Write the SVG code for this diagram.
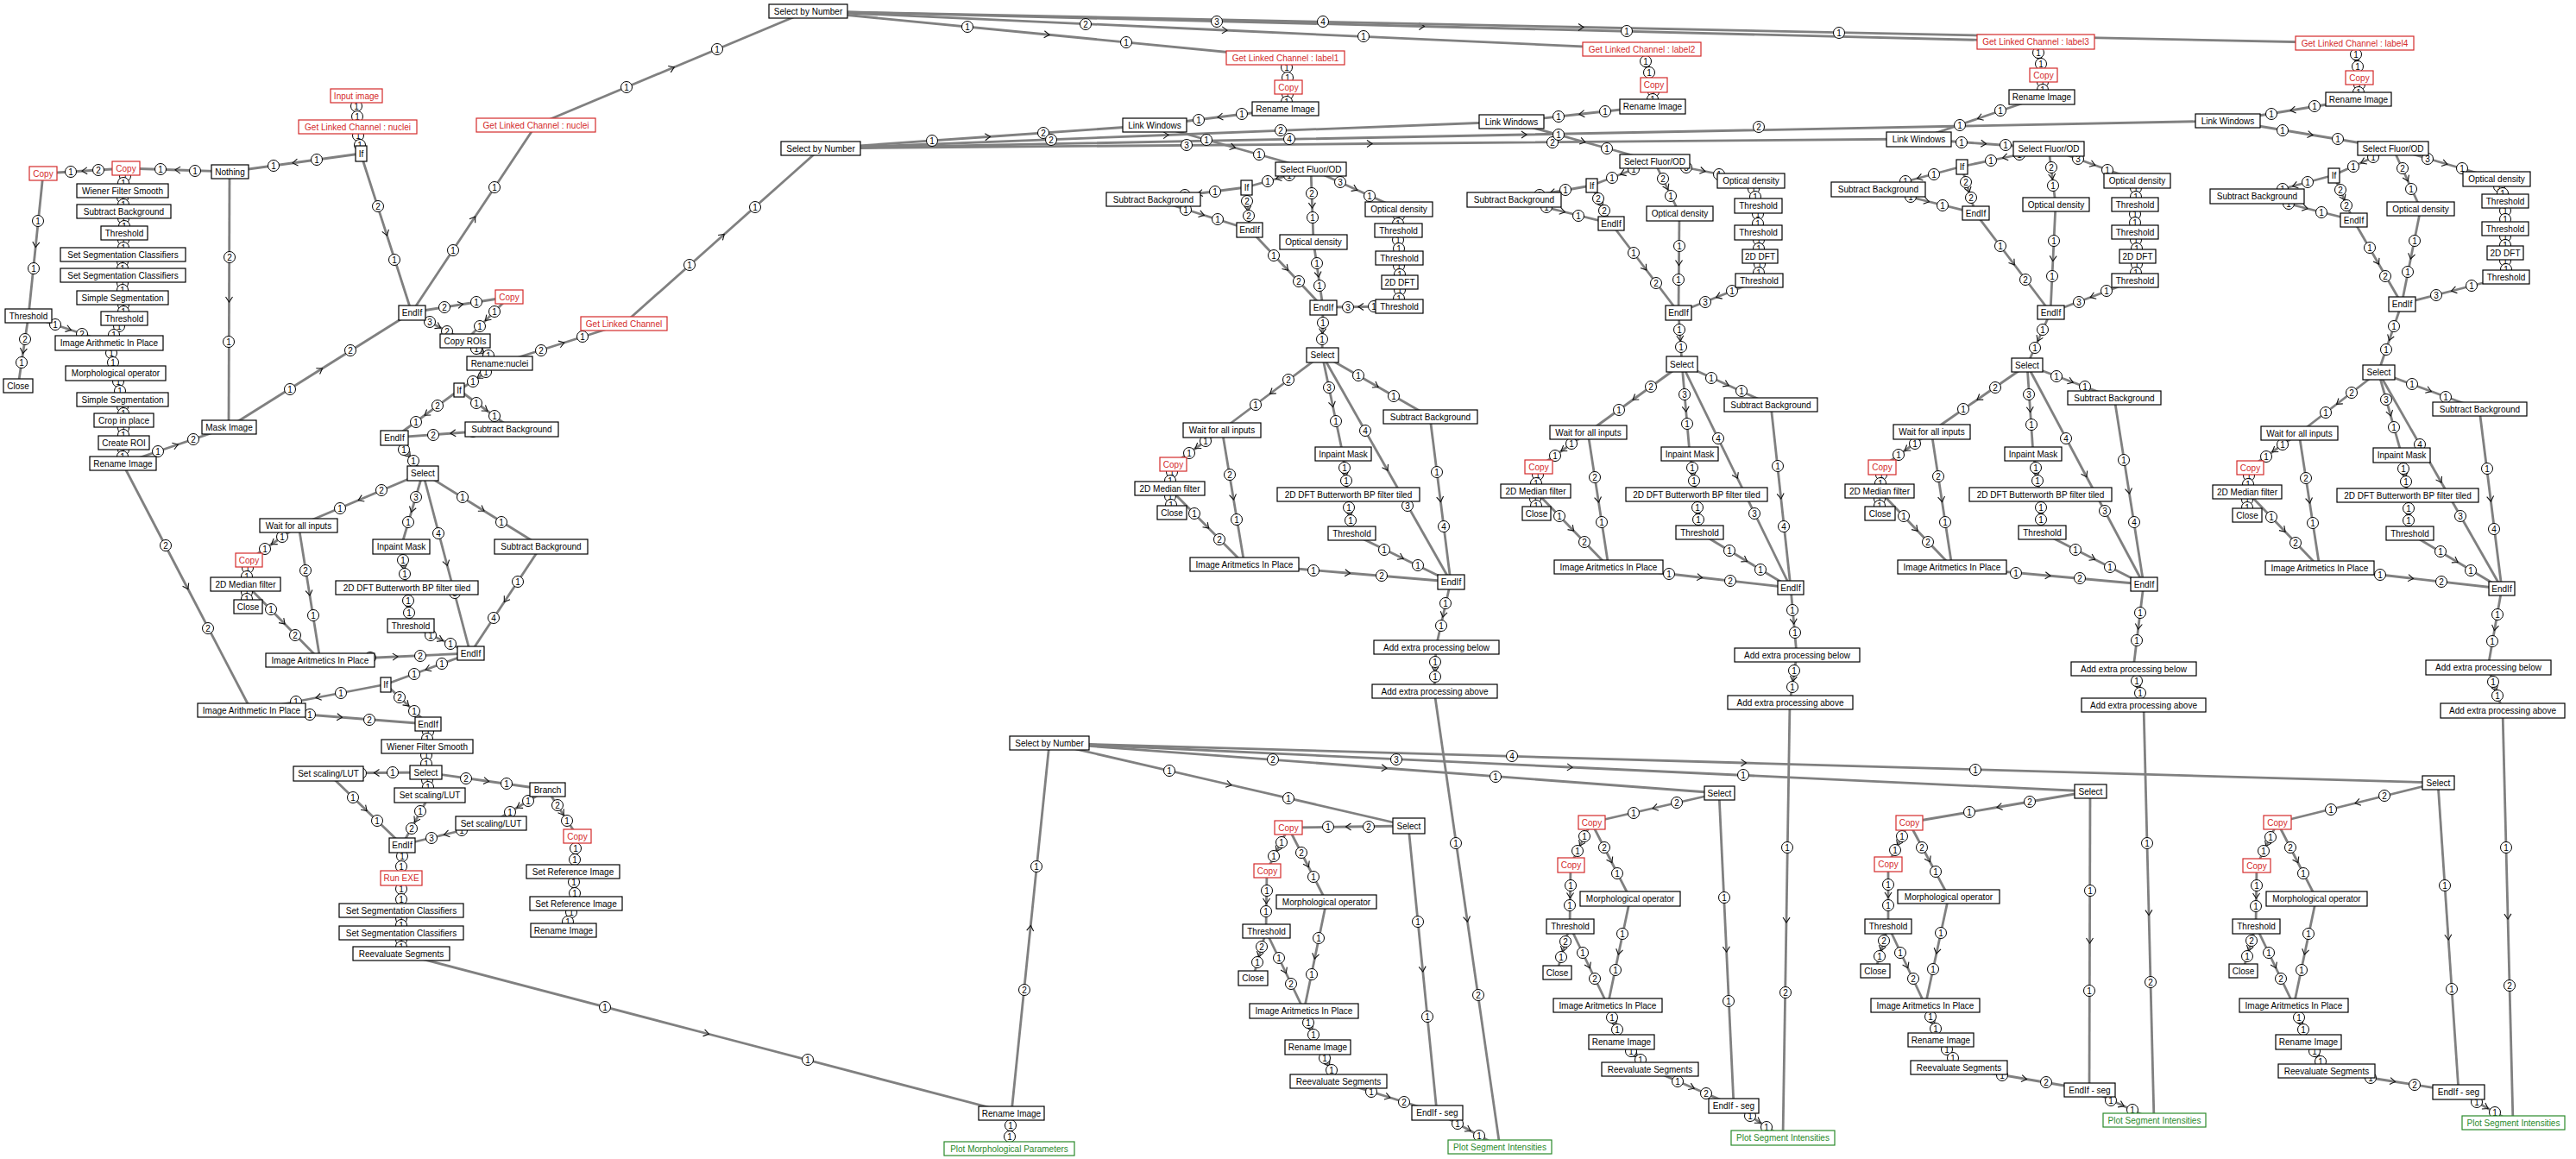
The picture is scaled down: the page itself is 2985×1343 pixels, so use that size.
<svg xmlns="http://www.w3.org/2000/svg" width="2985" height="1343" viewBox="0 0 2985 1343">
<style>
.e polyline{fill:none;stroke:#808080;stroke-width:2.8;stroke-linejoin:round;marker-mid:url(#ar)}
.l circle{r:6.5px;fill:#fff;stroke:#000;stroke-width:1}
.l text{font-family:"Liberation Sans",Arial,sans-serif;font-size:10px;text-anchor:middle;dominant-baseline:central;fill:#000}
.n rect{fill:#fff;stroke:#000;stroke-width:1.2}
.n text{font-family:"Liberation Sans",Arial,sans-serif;font-size:10px;text-anchor:middle;dominant-baseline:central;fill:#000}
.r rect{stroke:#d42a2a}.r text{fill:#d42a2a}
.g rect{stroke:#2a8a2a}.g text{fill:#2a8a2a}
</style>
<defs>
<marker id="ar" viewBox="-5 -5 10 10" markerWidth="10" markerHeight="10" markerUnits="userSpaceOnUse" orient="auto" refX="0" refY="0"><path d="M-3,-4L3,0L-3,4" fill="none" stroke="#111" stroke-width="1.1"/></marker>
</defs>
<rect width="2985" height="1343" fill="#fff"/>
<g id="connectors">
<g class="e">
<polyline points="413,111 413.5,129 414,147"/>
<polyline points="414,147 416,162.5 418,178"/>
<polyline points="418,178 342,188.5 266,199"/>
<polyline points="266,199 206,197 146,195"/>
<polyline points="146,195 98,198 50,201"/>
<polyline points="50,201 41.5,283.5 33,366"/>
<polyline points="33,366 27,406.5 21,447"/>
<polyline points="33,366 79.5,381.5 126,397"/>
<polyline points="146,195 144,208 142,221"/>
<polyline points="142,221 142.5,233 143,245"/>
<polyline points="143,245 143.5,257.5 144,270"/>
<polyline points="144,270 143,282.5 142,295"/>
<polyline points="142,295 142,307 142,319"/>
<polyline points="142,319 142,332 142,345"/>
<polyline points="142,345 143,357 144,369"/>
<polyline points="144,369 135,383 126,397"/>
<polyline points="126,397 130,414.5 134,432"/>
<polyline points="134,432 138,447.5 142,463"/>
<polyline points="142,463 142.5,475 143,487"/>
<polyline points="143,487 143,500 143,513"/>
<polyline points="143,513 142.5,525 142,537"/>
<polyline points="142,537 203.5,516 265,495"/>
<polyline points="266,199 265.5,347 265,495"/>
<polyline points="265,495 371,428.5 477,362"/>
<polyline points="418,178 447.5,270 477,362"/>
<polyline points="477,362 549,253.5 621,145"/>
<polyline points="621,145 778.5,79 936,13"/>
<polyline points="477,362 533.5,353 590,344"/>
<polyline points="477,362 508,378.5 539,395"/>
<polyline points="590,344 564.5,369.5 539,395"/>
<polyline points="539,395 559,408 579,421"/>
<polyline points="579,421 651,398 723,375"/>
<polyline points="723,375 837,273.5 951,172"/>
<polyline points="579,421 555.5,436.5 532,452"/>
<polyline points="532,452 494.5,479.5 457,507"/>
<polyline points="532,452 562.5,474.5 593,497"/>
<polyline points="593,497 525,502 457,507"/>
<polyline points="457,507 473.5,527.5 490,548"/>
<polyline points="490,548 418,578.5 346,609"/>
<polyline points="490,548 477.5,590.5 465,633"/>
<polyline points="490,548 517.5,652.5 545,757"/>
<polyline points="490,548 558.5,590.5 627,633"/>
<polyline points="627,633 586,695 545,757"/>
<polyline points="346,609 317,629 288,649"/>
<polyline points="346,609 358.5,687 371,765"/>
<polyline points="288,649 286.5,663 285,677"/>
<polyline points="285,677 286,690 287,703"/>
<polyline points="285,677 328,721 371,765"/>
<polyline points="465,633 468,657 471,681"/>
<polyline points="471,681 473.5,703 476,725"/>
<polyline points="476,725 510.5,741 545,757"/>
<polyline points="371,765 458,761 545,757"/>
<polyline points="545,757 496,775 447,793"/>
<polyline points="447,793 369,808 291,823"/>
<polyline points="447,793 471.5,816 496,839"/>
<polyline points="142,537 216.5,680 291,823"/>
<polyline points="291,823 393.5,831 496,839"/>
<polyline points="496,839 495.5,852 495,865"/>
<polyline points="495,865 494,880 493,895"/>
<polyline points="493,895 436.5,895.5 380,896"/>
<polyline points="493,895 495.5,908 498,921"/>
<polyline points="380,896 423,937.5 466,979"/>
<polyline points="498,921 482,950 466,979"/>
<polyline points="493,895 563.5,905 634,915"/>
<polyline points="634,915 601.5,934.5 569,954"/>
<polyline points="569,954 517.5,966.5 466,979"/>
<polyline points="634,915 651.5,942 669,969"/>
<polyline points="669,969 666.5,989.5 664,1010"/>
<polyline points="664,1010 665.5,1028.5 667,1047"/>
<polyline points="667,1047 660,1062.5 653,1078"/>
<polyline points="466,979 465.5,998 465,1017"/>
<polyline points="465,1017 465,1036 465,1055"/>
<polyline points="465,1055 465,1068 465,1081"/>
<polyline points="465,1081 465,1093 465,1105"/>
<polyline points="465,1105 818.5,1197.5 1172,1290"/>
<polyline points="1172,1290 1194,1075.5 1216,861"/>
<polyline points="1172,1290 1170.5,1310.5 1169,1331"/>
<polyline points="936,13 1213,40 1490,67"/>
<polyline points="936,13 1419,35 1902,57"/>
<polyline points="936,13 1647.5,30.5 2359,48"/>
<polyline points="936,13 1832,31.5 2728,50"/>
<polyline points="951,172 1144.5,158.5 1338,145"/>
<polyline points="951,172 1351,156.5 1751,141"/>
<polyline points="951,172 1587,166.5 2223,161"/>
<polyline points="951,172 1766,156 2581,140"/>
<polyline points="1490,67 1491.5,84 1493,101"/>
<polyline points="1493,101 1491.5,113.5 1490,126"/>
<polyline points="1490,126 1414,135.5 1338,145"/>
<polyline points="1338,145 1428.5,170.5 1519,196"/>
<polyline points="1519,196 1481.5,206.5 1444,217"/>
<polyline points="1444,217 1390.5,224 1337,231"/>
<polyline points="1444,217 1446,241.5 1448,266"/>
<polyline points="1337,231 1392.5,248.5 1448,266"/>
<polyline points="1519,196 1520.5,238 1522,280"/>
<polyline points="1519,196 1570,219 1621,242"/>
<polyline points="1621,242 1620.5,254.5 1620,267"/>
<polyline points="1620,267 1620.5,283 1621,299"/>
<polyline points="1621,299 1621.5,313 1622,327"/>
<polyline points="1622,327 1621.5,341 1621,355"/>
<polyline points="1621,355 1577,355.5 1533,356"/>
<polyline points="1522,280 1527.5,318 1533,356"/>
<polyline points="1448,266 1490.5,311 1533,356"/>
<polyline points="1533,356 1532.5,383.5 1532,411"/>
<polyline points="1532,411 1474,454.5 1416,498"/>
<polyline points="1532,411 1544,468.5 1556,526"/>
<polyline points="1532,411 1606.5,542.5 1681,674"/>
<polyline points="1532,411 1594.5,447 1657,483"/>
<polyline points="1657,483 1669,578.5 1681,674"/>
<polyline points="1416,498 1387.5,518 1359,538"/>
<polyline points="1416,498 1429,576 1442,654"/>
<polyline points="1359,538 1357,552 1355,566"/>
<polyline points="1355,566 1356.5,580 1358,594"/>
<polyline points="1355,566 1398.5,610 1442,654"/>
<polyline points="1556,526 1559,549.5 1562,573"/>
<polyline points="1562,573 1564,595.5 1566,618"/>
<polyline points="1566,618 1623.5,646 1681,674"/>
<polyline points="1442,654 1561.5,664 1681,674"/>
<polyline points="1681,674 1672.5,712 1664,750"/>
<polyline points="1664,750 1663,775.5 1662,801"/>
<polyline points="1662,801 1700,1065 1738,1329"/>
<polyline points="1216,861 1424,909 1632,957"/>
<polyline points="1216,861 1604,890 1992,919"/>
<polyline points="1216,861 1819,889 2422,917"/>
<polyline points="1216,861 2020.5,884 2825,907"/>
<polyline points="1632,957 1562.5,958 1493,959"/>
<polyline points="1632,957 1648.5,1123 1665,1289"/>
<polyline points="1493,959 1480.5,984 1468,1009"/>
<polyline points="1493,959 1515,1002 1537,1045"/>
<polyline points="1468,1009 1467.5,1044 1467,1079"/>
<polyline points="1467,1079 1459.5,1106 1452,1133"/>
<polyline points="1467,1079 1489,1125 1511,1171"/>
<polyline points="1537,1045 1524,1108 1511,1171"/>
<polyline points="1511,1171 1519,1192 1527,1213"/>
<polyline points="1527,1213 1539,1233 1551,1253"/>
<polyline points="1551,1253 1608,1271 1665,1289"/>
<polyline points="1665,1289 1701.5,1309 1738,1329"/>
<polyline points="1902,57 1909,77.5 1916,98"/>
<polyline points="1916,98 1915.5,110.5 1915,123"/>
<polyline points="1915,123 1833,132 1751,141"/>
<polyline points="1751,141 1834,164 1917,187"/>
<polyline points="1917,187 1880.5,201 1844,215"/>
<polyline points="1844,215 1799,223 1754,231"/>
<polyline points="1844,215 1855.5,237 1867,259"/>
<polyline points="1754,231 1810.5,245 1867,259"/>
<polyline points="1917,187 1931.5,217 1946,247"/>
<polyline points="1917,187 1973,198 2029,209"/>
<polyline points="2029,209 2033,223.5 2037,238"/>
<polyline points="2037,238 2037,253.5 2037,269"/>
<polyline points="2037,269 2038,283 2039,297"/>
<polyline points="2039,297 2038.5,311 2038,325"/>
<polyline points="2038,325 1991.5,343.5 1945,362"/>
<polyline points="1946,247 1945.5,304.5 1945,362"/>
<polyline points="1867,259 1906,310.5 1945,362"/>
<polyline points="1945,362 1947,392 1949,422"/>
<polyline points="1949,422 1894.5,461.5 1840,501"/>
<polyline points="1949,422 1953.5,474 1958,526"/>
<polyline points="1949,422 2012,551.5 2075,681"/>
<polyline points="1949,422 2000.5,445.5 2052,469"/>
<polyline points="2052,469 2063.5,575 2075,681"/>
<polyline points="1840,501 1811.5,521 1783,541"/>
<polyline points="1840,501 1852,579 1864,657"/>
<polyline points="1783,541 1781,555 1779,569"/>
<polyline points="1779,569 1779.5,582 1780,595"/>
<polyline points="1779,569 1821.5,613 1864,657"/>
<polyline points="1958,526 1962,549.5 1966,573"/>
<polyline points="1966,573 1967.5,595 1969,617"/>
<polyline points="1969,617 2022,649 2075,681"/>
<polyline points="1864,657 1969.5,669 2075,681"/>
<polyline points="2075,681 2078.5,720 2082,759"/>
<polyline points="2082,759 2078,786.5 2074,814"/>
<polyline points="2074,814 2070,1066 2066,1318"/>
<polyline points="1992,919 1918,936 1844,953"/>
<polyline points="1992,919 2000.5,1100 2009,1281"/>
<polyline points="1844,953 1832,977.5 1820,1002"/>
<polyline points="1844,953 1866.5,997 1889,1041"/>
<polyline points="1820,1002 1819.5,1037.5 1819,1073"/>
<polyline points="1819,1073 1811.5,1100 1804,1127"/>
<polyline points="1819,1073 1841,1119 1863,1165"/>
<polyline points="1889,1041 1876,1103 1863,1165"/>
<polyline points="1863,1165 1871,1186 1879,1207"/>
<polyline points="1879,1207 1895.5,1223 1912,1239"/>
<polyline points="1912,1239 1960.5,1260 2009,1281"/>
<polyline points="2009,1281 2037.5,1299.5 2066,1318"/>
<polyline points="2359,48 2363.5,67.5 2368,87"/>
<polyline points="2368,87 2367,99.5 2366,112"/>
<polyline points="2366,112 2294.5,136.5 2223,161"/>
<polyline points="2223,161 2298.5,166.5 2374,172"/>
<polyline points="2374,172 2323.5,182.5 2273,193"/>
<polyline points="2273,193 2224.5,206 2176,219"/>
<polyline points="2273,193 2281,220 2289,247"/>
<polyline points="2176,219 2232.5,233 2289,247"/>
<polyline points="2374,172 2378,204.5 2382,237"/>
<polyline points="2374,172 2425,190.5 2476,209"/>
<polyline points="2476,209 2475,223 2474,237"/>
<polyline points="2474,237 2474,253 2474,269"/>
<polyline points="2474,269 2475.5,283 2477,297"/>
<polyline points="2477,297 2475.5,311 2474,325"/>
<polyline points="2474,325 2425,343.5 2376,362"/>
<polyline points="2382,237 2379,299.5 2376,362"/>
<polyline points="2289,247 2332.5,304.5 2376,362"/>
<polyline points="2376,362 2362.5,392.5 2349,423"/>
<polyline points="2349,423 2293.5,461.5 2238,500"/>
<polyline points="2349,423 2352.5,474.5 2356,526"/>
<polyline points="2349,423 2416.5,550 2484,677"/>
<polyline points="2349,423 2399.5,442 2450,461"/>
<polyline points="2450,461 2467,569 2484,677"/>
<polyline points="2238,500 2209.5,520.5 2181,541"/>
<polyline points="2238,500 2250,578.5 2262,657"/>
<polyline points="2181,541 2179.5,555 2178,569"/>
<polyline points="2178,569 2178,582 2178,595"/>
<polyline points="2178,569 2220,613 2262,657"/>
<polyline points="2356,526 2360,549.5 2364,573"/>
<polyline points="2364,573 2365,595 2366,617"/>
<polyline points="2366,617 2425,647 2484,677"/>
<polyline points="2262,657 2373,667 2484,677"/>
<polyline points="2484,677 2478,726 2472,775"/>
<polyline points="2472,775 2478,796 2484,817"/>
<polyline points="2484,817 2490,1057.5 2496,1298"/>
<polyline points="2422,917 2317,935 2212,953"/>
<polyline points="2422,917 2421.5,1090 2421,1263"/>
<polyline points="2212,953 2200,977 2188,1001"/>
<polyline points="2212,953 2235,996 2258,1039"/>
<polyline points="2188,1001 2188,1037 2188,1073"/>
<polyline points="2188,1073 2180.5,1099 2173,1125"/>
<polyline points="2188,1073 2209.5,1119 2231,1165"/>
<polyline points="2258,1039 2244.5,1102 2231,1165"/>
<polyline points="2231,1165 2240,1185 2249,1205"/>
<polyline points="2249,1205 2259.5,1221 2270,1237"/>
<polyline points="2270,1237 2345.5,1250 2421,1263"/>
<polyline points="2421,1263 2458.5,1280.5 2496,1298"/>
<polyline points="2728,50 2731,70 2734,90"/>
<polyline points="2734,90 2733.5,102.5 2733,115"/>
<polyline points="2733,115 2657,127.5 2581,140"/>
<polyline points="2581,140 2677,156 2773,172"/>
<polyline points="2773,172 2738.5,187.5 2704,203"/>
<polyline points="2704,203 2659.5,215 2615,227"/>
<polyline points="2704,203 2715.5,229 2727,255"/>
<polyline points="2615,227 2671,241 2727,255"/>
<polyline points="2773,172 2789,207 2805,242"/>
<polyline points="2773,172 2833,189.5 2893,207"/>
<polyline points="2893,207 2898,220 2903,233"/>
<polyline points="2903,233 2903,249 2903,265"/>
<polyline points="2903,265 2903,279 2903,293"/>
<polyline points="2903,293 2903.5,307 2904,321"/>
<polyline points="2904,321 2843.5,336.5 2783,352"/>
<polyline points="2805,242 2794,297 2783,352"/>
<polyline points="2727,255 2755,303.5 2783,352"/>
<polyline points="2783,352 2769.5,391.5 2756,431"/>
<polyline points="2756,431 2710,466.5 2664,502"/>
<polyline points="2756,431 2769.5,479 2783,527"/>
<polyline points="2756,431 2827.5,556.5 2899,682"/>
<polyline points="2756,431 2814.5,452.5 2873,474"/>
<polyline points="2873,474 2886,578 2899,682"/>
<polyline points="2664,502 2635.5,522 2607,542"/>
<polyline points="2664,502 2676,580 2688,658"/>
<polyline points="2607,542 2605.5,556 2604,570"/>
<polyline points="2604,570 2604,583.5 2604,597"/>
<polyline points="2604,570 2646,614 2688,658"/>
<polyline points="2783,527 2786.5,550.5 2790,574"/>
<polyline points="2790,574 2791,596 2792,618"/>
<polyline points="2792,618 2845.5,650 2899,682"/>
<polyline points="2688,658 2793.5,670 2899,682"/>
<polyline points="2899,682 2891,727.5 2883,773"/>
<polyline points="2883,773 2891.5,798 2900,823"/>
<polyline points="2900,823 2906,1062 2912,1301"/>
<polyline points="2825,907 2732,930 2639,953"/>
<polyline points="2825,907 2837,1086 2849,1265"/>
<polyline points="2639,953 2627,978 2615,1003"/>
<polyline points="2639,953 2661.5,997 2684,1041"/>
<polyline points="2615,1003 2614.5,1038 2614,1073"/>
<polyline points="2614,1073 2606.5,1099 2599,1125"/>
<polyline points="2614,1073 2636,1119 2658,1165"/>
<polyline points="2684,1041 2671,1103 2658,1165"/>
<polyline points="2658,1165 2666.5,1186 2675,1207"/>
<polyline points="2675,1207 2685.5,1224 2696,1241"/>
<polyline points="2696,1241 2772.5,1253 2849,1265"/>
<polyline points="2849,1265 2880.5,1283 2912,1301"/>
</g>
<g class="l">
<circle cx="413" cy="123"/><text x="413" y="123">1</text><circle cx="414" cy="135"/><text x="414" y="135">1</text>
<circle cx="415" cy="157"/><text x="415" y="157">1</text><circle cx="417" cy="168"/><text x="417" y="168">1</text>
<circle cx="367" cy="185"/><text x="367" y="185">1</text><circle cx="317" cy="192"/><text x="317" y="192">1</text>
<circle cx="226" cy="198"/><text x="226" y="198">1</text><circle cx="186" cy="196"/><text x="186" y="196">1</text>
<circle cx="114" cy="197"/><text x="114" y="197">2</text><circle cx="82" cy="199"/><text x="82" y="199">1</text>
<circle cx="44" cy="256"/><text x="44" y="256">1</text><circle cx="39" cy="311"/><text x="39" y="311">1</text>
<circle cx="29" cy="393"/><text x="29" y="393">2</text><circle cx="25" cy="420"/><text x="25" y="420">1</text>
<circle cx="64" cy="376"/><text x="64" y="376">1</text><circle cx="95" cy="387"/><text x="95" y="387">2</text>
<circle cx="145" cy="204"/><text x="145" y="204">1</text><circle cx="143" cy="212"/><text x="143" y="212">1</text>
<circle cx="142" cy="229"/><text x="142" y="229">1</text><circle cx="143" cy="237"/><text x="143" y="237">1</text>
<circle cx="143" cy="253"/><text x="143" y="253">1</text><circle cx="144" cy="262"/><text x="144" y="262">1</text>
<circle cx="143" cy="278"/><text x="143" y="278">1</text><circle cx="143" cy="287"/><text x="143" y="287">1</text>
<circle cx="142" cy="303"/><text x="142" y="303">1</text><circle cx="142" cy="311"/><text x="142" y="311">1</text>
<circle cx="142" cy="328"/><text x="142" y="328">1</text><circle cx="142" cy="336"/><text x="142" y="336">1</text>
<circle cx="143" cy="353"/><text x="143" y="353">1</text><circle cx="143" cy="361"/><text x="143" y="361">1</text>
<circle cx="138" cy="378"/><text x="138" y="378">1</text><circle cx="132" cy="388"/><text x="132" y="388">1</text>
<circle cx="129" cy="409"/><text x="129" y="409">1</text><circle cx="131" cy="420"/><text x="131" y="420">1</text>
<circle cx="137" cy="442"/><text x="137" y="442">1</text><circle cx="139" cy="453"/><text x="139" y="453">1</text>
<circle cx="142" cy="471"/><text x="142" y="471">1</text><circle cx="143" cy="479"/><text x="143" y="479">1</text>
<circle cx="143" cy="496"/><text x="143" y="496">1</text><circle cx="143" cy="504"/><text x="143" y="504">1</text>
<circle cx="143" cy="521"/><text x="143" y="521">1</text><circle cx="142" cy="529"/><text x="142" y="529">1</text>
<circle cx="183" cy="523"/><text x="183" y="523">1</text><circle cx="224" cy="509"/><text x="224" y="509">2</text>
<circle cx="266" cy="298"/><text x="266" y="298">2</text><circle cx="265" cy="396"/><text x="265" y="396">1</text>
<circle cx="336" cy="451"/><text x="336" y="451">1</text><circle cx="406" cy="406"/><text x="406" y="406">2</text>
<circle cx="438" cy="239"/><text x="438" y="239">2</text><circle cx="457" cy="301"/><text x="457" y="301">1</text>
<circle cx="525" cy="290"/><text x="525" y="290">1</text><circle cx="573" cy="217"/><text x="573" y="217">1</text>
<circle cx="726" cy="101"/><text x="726" y="101">1</text><circle cx="831" cy="57"/><text x="831" y="57">1</text>
<circle cx="515" cy="356"/><text x="515" y="356">2</text><circle cx="552" cy="350"/><text x="552" y="350">1</text>
<circle cx="498" cy="373"/><text x="498" y="373">3</text><circle cx="518" cy="384"/><text x="518" y="384">2</text>
<circle cx="573" cy="361"/><text x="573" y="361">1</text><circle cx="556" cy="378"/><text x="556" y="378">1</text>
<circle cx="552" cy="404"/><text x="552" y="404">1</text><circle cx="566" cy="412"/><text x="566" y="412">1</text>
<circle cx="627" cy="406"/><text x="627" y="406">2</text><circle cx="675" cy="390"/><text x="675" y="390">1</text>
<circle cx="799" cy="307"/><text x="799" y="307">1</text><circle cx="875" cy="240"/><text x="875" y="240">1</text>
<circle cx="563" cy="431"/><text x="563" y="431">1</text><circle cx="548" cy="442"/><text x="548" y="442">1</text>
<circle cx="507" cy="470"/><text x="507" y="470">2</text><circle cx="482" cy="489"/><text x="482" y="489">1</text>
<circle cx="552" cy="467"/><text x="552" y="467">1</text><circle cx="573" cy="482"/><text x="573" y="482">1</text>
<circle cx="548" cy="500"/><text x="548" y="500">1</text><circle cx="502" cy="504"/><text x="502" y="504">2</text>
<circle cx="468" cy="521"/><text x="468" y="521">1</text><circle cx="479" cy="534"/><text x="479" y="534">1</text>
<circle cx="442" cy="568"/><text x="442" y="568">2</text><circle cx="394" cy="589"/><text x="394" y="589">1</text>
<circle cx="482" cy="576"/><text x="482" y="576">3</text><circle cx="473" cy="605"/><text x="473" y="605">1</text>
<circle cx="508" cy="618"/><text x="508" y="618">4</text><circle cx="527" cy="687"/><text x="527" y="687">3</text>
<circle cx="536" cy="576"/><text x="536" y="576">1</text><circle cx="581" cy="605"/><text x="581" y="605">1</text>
<circle cx="600" cy="674"/><text x="600" y="674">1</text><circle cx="572" cy="716"/><text x="572" y="716">4</text>
<circle cx="327" cy="622"/><text x="327" y="622">1</text><circle cx="307" cy="636"/><text x="307" y="636">1</text>
<circle cx="354" cy="661"/><text x="354" y="661">2</text><circle cx="363" cy="713"/><text x="363" y="713">1</text>
<circle cx="287" cy="658"/><text x="287" y="658">1</text><circle cx="286" cy="668"/><text x="286" y="668">1</text>
<circle cx="286" cy="686"/><text x="286" y="686">1</text><circle cx="286" cy="694"/><text x="286" y="694">1</text>
<circle cx="314" cy="706"/><text x="314" y="706">1</text><circle cx="342" cy="736"/><text x="342" y="736">2</text>
<circle cx="467" cy="649"/><text x="467" y="649">1</text><circle cx="469" cy="665"/><text x="469" y="665">1</text>
<circle cx="473" cy="696"/><text x="473" y="696">1</text><circle cx="474" cy="710"/><text x="474" y="710">1</text>
<circle cx="499" cy="736"/><text x="499" y="736">1</text><circle cx="522" cy="746"/><text x="522" y="746">1</text>
<circle cx="429" cy="762"/><text x="429" y="762">1</text><circle cx="487" cy="760"/><text x="487" y="760">2</text>
<circle cx="512" cy="769"/><text x="512" y="769">1</text><circle cx="480" cy="781"/><text x="480" y="781">1</text>
<circle cx="395" cy="803"/><text x="395" y="803">1</text><circle cx="343" cy="813"/><text x="343" y="813">1</text>
<circle cx="463" cy="808"/><text x="463" y="808">2</text><circle cx="480" cy="824"/><text x="480" y="824">1</text>
<circle cx="192" cy="632"/><text x="192" y="632">2</text><circle cx="241" cy="728"/><text x="241" y="728">2</text>
<circle cx="359" cy="828"/><text x="359" y="828">1</text><circle cx="428" cy="834"/><text x="428" y="834">2</text>
<circle cx="496" cy="848"/><text x="496" y="848">1</text><circle cx="495" cy="856"/><text x="495" y="856">1</text>
<circle cx="494" cy="875"/><text x="494" y="875">1</text><circle cx="494" cy="885"/><text x="494" y="885">1</text>
<circle cx="455" cy="895"/><text x="455" y="895">1</text><circle cx="418" cy="896"/><text x="418" y="896">1</text>
<circle cx="495" cy="904"/><text x="495" y="904">1</text><circle cx="496" cy="912"/><text x="496" y="912">1</text>
<circle cx="409" cy="924"/><text x="409" y="924">1</text><circle cx="437" cy="951"/><text x="437" y="951">1</text>
<circle cx="487" cy="940"/><text x="487" y="940">1</text><circle cx="477" cy="960"/><text x="477" y="960">2</text>
<circle cx="540" cy="902"/><text x="540" y="902">2</text><circle cx="587" cy="908"/><text x="587" y="908">1</text>
<circle cx="612" cy="928"/><text x="612" y="928">1</text><circle cx="591" cy="941"/><text x="591" y="941">1</text>
<circle cx="535" cy="962"/><text x="535" y="962">1</text><circle cx="500" cy="971"/><text x="500" y="971">3</text>
<circle cx="646" cy="933"/><text x="646" y="933">2</text><circle cx="657" cy="951"/><text x="657" y="951">1</text>
<circle cx="667" cy="983"/><text x="667" y="983">1</text><circle cx="666" cy="996"/><text x="666" y="996">1</text>
<circle cx="665" cy="1022"/><text x="665" y="1022">1</text><circle cx="666" cy="1035"/><text x="666" y="1035">1</text>
<circle cx="662" cy="1057"/><text x="662" y="1057">1</text><circle cx="658" cy="1068"/><text x="658" y="1068">1</text>
<circle cx="466" cy="992"/><text x="466" y="992">1</text><circle cx="465" cy="1004"/><text x="465" y="1004">1</text>
<circle cx="465" cy="1030"/><text x="465" y="1030">1</text><circle cx="465" cy="1042"/><text x="465" y="1042">1</text>
<circle cx="465" cy="1064"/><text x="465" y="1064">1</text><circle cx="465" cy="1072"/><text x="465" y="1072">1</text>
<circle cx="465" cy="1089"/><text x="465" y="1089">1</text><circle cx="465" cy="1097"/><text x="465" y="1097">1</text>
<circle cx="701" cy="1167"/><text x="701" y="1167">1</text><circle cx="936" cy="1228"/><text x="936" y="1228">1</text>
<circle cx="1187" cy="1147"/><text x="1187" y="1147">2</text><circle cx="1201" cy="1004"/><text x="1201" y="1004">1</text>
<circle cx="1171" cy="1304"/><text x="1171" y="1304">1</text><circle cx="1170" cy="1317"/><text x="1170" y="1317">1</text>
<circle cx="1121" cy="31"/><text x="1121" y="31">1</text><circle cx="1305" cy="49"/><text x="1305" y="49">1</text>
<circle cx="1258" cy="28"/><text x="1258" y="28">2</text><circle cx="1580" cy="42"/><text x="1580" y="42">1</text>
<circle cx="1410" cy="25"/><text x="1410" y="25">3</text><circle cx="1885" cy="36"/><text x="1885" y="36">1</text>
<circle cx="1533" cy="25"/><text x="1533" y="25">4</text><circle cx="2131" cy="38"/><text x="2131" y="38">1</text>
<circle cx="1080" cy="163"/><text x="1080" y="163">1</text><circle cx="1209" cy="154"/><text x="1209" y="154">2</text>
<circle cx="1218" cy="162"/><text x="1218" y="162">2</text><circle cx="1484" cy="151"/><text x="1484" y="151">2</text>
<circle cx="1375" cy="168"/><text x="1375" y="168">3</text><circle cx="1799" cy="165"/><text x="1799" y="165">2</text>
<circle cx="1494" cy="161"/><text x="1494" y="161">4</text><circle cx="2038" cy="147"/><text x="2038" y="147">2</text>
<circle cx="1491" cy="78"/><text x="1491" y="78">1</text><circle cx="1492" cy="90"/><text x="1492" y="90">1</text>
<circle cx="1492" cy="109"/><text x="1492" y="109">1</text><circle cx="1491" cy="118"/><text x="1491" y="118">1</text>
<circle cx="1439" cy="132"/><text x="1439" y="132">1</text><circle cx="1389" cy="139"/><text x="1389" y="139">1</text>
<circle cx="1398" cy="162"/><text x="1398" y="162">1</text><circle cx="1459" cy="179"/><text x="1459" y="179">1</text>
<circle cx="1494" cy="203"/><text x="1494" y="203">1</text><circle cx="1469" cy="210"/><text x="1469" y="210">1</text>
<circle cx="1408" cy="222"/><text x="1408" y="222">1</text><circle cx="1373" cy="226"/><text x="1373" y="226">1</text>
<circle cx="1445" cy="233"/><text x="1445" y="233">2</text><circle cx="1447" cy="250"/><text x="1447" y="250">2</text>
<circle cx="1374" cy="243"/><text x="1374" y="243">1</text><circle cx="1411" cy="254"/><text x="1411" y="254">1</text>
<circle cx="1520" cy="224"/><text x="1520" y="224">2</text><circle cx="1521" cy="252"/><text x="1521" y="252">1</text>
<circle cx="1553" cy="211"/><text x="1553" y="211">3</text><circle cx="1587" cy="227"/><text x="1587" y="227">1</text>
<circle cx="1621" cy="250"/><text x="1621" y="250">1</text><circle cx="1620" cy="259"/><text x="1620" y="259">1</text>
<circle cx="1620" cy="278"/><text x="1620" y="278">1</text><circle cx="1621" cy="288"/><text x="1621" y="288">1</text>
<circle cx="1621" cy="308"/><text x="1621" y="308">1</text><circle cx="1622" cy="318"/><text x="1622" y="318">1</text>
<circle cx="1622" cy="336"/><text x="1622" y="336">1</text><circle cx="1621" cy="346"/><text x="1621" y="346">1</text>
<circle cx="1592" cy="355"/><text x="1592" y="355">1</text><circle cx="1562" cy="356"/><text x="1562" y="356">3</text>
<circle cx="1526" cy="305"/><text x="1526" y="305">1</text><circle cx="1529" cy="331"/><text x="1529" y="331">1</text>
<circle cx="1476" cy="296"/><text x="1476" y="296">1</text><circle cx="1505" cy="326"/><text x="1505" y="326">2</text>
<circle cx="1533" cy="374"/><text x="1533" y="374">1</text><circle cx="1532" cy="393"/><text x="1532" y="393">1</text>
<circle cx="1493" cy="440"/><text x="1493" y="440">2</text><circle cx="1455" cy="469"/><text x="1455" y="469">1</text>
<circle cx="1540" cy="449"/><text x="1540" y="449">3</text><circle cx="1548" cy="488"/><text x="1548" y="488">1</text>
<circle cx="1582" cy="499"/><text x="1582" y="499">4</text><circle cx="1631" cy="586"/><text x="1631" y="586">3</text>
<circle cx="1574" cy="435"/><text x="1574" y="435">1</text><circle cx="1615" cy="459"/><text x="1615" y="459">1</text>
<circle cx="1665" cy="547"/><text x="1665" y="547">1</text><circle cx="1673" cy="610"/><text x="1673" y="610">4</text>
<circle cx="1397" cy="511"/><text x="1397" y="511">1</text><circle cx="1378" cy="525"/><text x="1378" y="525">1</text>
<circle cx="1425" cy="550"/><text x="1425" y="550">2</text><circle cx="1433" cy="602"/><text x="1433" y="602">1</text>
<circle cx="1358" cy="547"/><text x="1358" y="547">1</text><circle cx="1356" cy="557"/><text x="1356" y="557">1</text>
<circle cx="1356" cy="575"/><text x="1356" y="575">1</text><circle cx="1357" cy="585"/><text x="1357" y="585">1</text>
<circle cx="1384" cy="595"/><text x="1384" y="595">1</text><circle cx="1413" cy="625"/><text x="1413" y="625">2</text>
<circle cx="1558" cy="542"/><text x="1558" y="542">1</text><circle cx="1560" cy="557"/><text x="1560" y="557">1</text>
<circle cx="1563" cy="588"/><text x="1563" y="588">1</text><circle cx="1565" cy="603"/><text x="1565" y="603">1</text>
<circle cx="1604" cy="637"/><text x="1604" y="637">1</text><circle cx="1643" cy="655"/><text x="1643" y="655">1</text>
<circle cx="1522" cy="661"/><text x="1522" y="661">1</text><circle cx="1601" cy="667"/><text x="1601" y="667">2</text>
<circle cx="1675" cy="699"/><text x="1675" y="699">1</text><circle cx="1670" cy="725"/><text x="1670" y="725">1</text>
<circle cx="1663" cy="767"/><text x="1663" y="767">1</text><circle cx="1663" cy="784"/><text x="1663" y="784">1</text>
<circle cx="1687" cy="977"/><text x="1687" y="977">1</text><circle cx="1713" cy="1153"/><text x="1713" y="1153">2</text>
<circle cx="1355" cy="893"/><text x="1355" y="893">1</text><circle cx="1493" cy="925"/><text x="1493" y="925">1</text>
<circle cx="1475" cy="880"/><text x="1475" y="880">2</text><circle cx="1733" cy="900"/><text x="1733" y="900">1</text>
<circle cx="1618" cy="880"/><text x="1618" y="880">3</text><circle cx="2020" cy="898"/><text x="2020" y="898">1</text>
<circle cx="1752" cy="876"/><text x="1752" y="876">4</text><circle cx="2289" cy="892"/><text x="2289" y="892">1</text>
<circle cx="1586" cy="958"/><text x="1586" y="958">2</text><circle cx="1539" cy="958"/><text x="1539" y="958">1</text>
<circle cx="1643" cy="1068"/><text x="1643" y="1068">1</text><circle cx="1654" cy="1178"/><text x="1654" y="1178">1</text>
<circle cx="1485" cy="976"/><text x="1485" y="976">1</text><circle cx="1476" cy="992"/><text x="1476" y="992">1</text>
<circle cx="1508" cy="988"/><text x="1508" y="988">2</text><circle cx="1522" cy="1016"/><text x="1522" y="1016">1</text>
<circle cx="1468" cy="1032"/><text x="1468" y="1032">1</text><circle cx="1467" cy="1056"/><text x="1467" y="1056">1</text>
<circle cx="1462" cy="1097"/><text x="1462" y="1097">2</text><circle cx="1457" cy="1115"/><text x="1457" y="1115">1</text>
<circle cx="1482" cy="1110"/><text x="1482" y="1110">1</text><circle cx="1496" cy="1140"/><text x="1496" y="1140">2</text>
<circle cx="1528" cy="1087"/><text x="1528" y="1087">1</text><circle cx="1520" cy="1129"/><text x="1520" y="1129">1</text>
<circle cx="1516" cy="1185"/><text x="1516" y="1185">1</text><circle cx="1522" cy="1199"/><text x="1522" y="1199">1</text>
<circle cx="1535" cy="1226"/><text x="1535" y="1226">1</text><circle cx="1543" cy="1240"/><text x="1543" y="1240">1</text>
<circle cx="1589" cy="1265"/><text x="1589" y="1265">1</text><circle cx="1627" cy="1277"/><text x="1627" y="1277">2</text>
<circle cx="1689" cy="1302"/><text x="1689" y="1302">1</text><circle cx="1714" cy="1316"/><text x="1714" y="1316">1</text>
<circle cx="1907" cy="71"/><text x="1907" y="71">1</text><circle cx="1911" cy="84"/><text x="1911" y="84">1</text>
<circle cx="1916" cy="106"/><text x="1916" y="106">1</text><circle cx="1915" cy="115"/><text x="1915" y="115">1</text>
<circle cx="1860" cy="129"/><text x="1860" y="129">1</text><circle cx="1806" cy="135"/><text x="1806" y="135">1</text>
<circle cx="1806" cy="156"/><text x="1806" y="156">1</text><circle cx="1862" cy="172"/><text x="1862" y="172">1</text>
<circle cx="1893" cy="196"/><text x="1893" y="196">1</text><circle cx="1868" cy="206"/><text x="1868" y="206">1</text>
<circle cx="1814" cy="220"/><text x="1814" y="220">1</text><circle cx="1784" cy="226"/><text x="1784" y="226">1</text>
<circle cx="1852" cy="230"/><text x="1852" y="230">2</text><circle cx="1859" cy="244"/><text x="1859" y="244">2</text>
<circle cx="1792" cy="240"/><text x="1792" y="240">1</text><circle cx="1829" cy="250"/><text x="1829" y="250">1</text>
<circle cx="1927" cy="207"/><text x="1927" y="207">2</text><circle cx="1936" cy="227"/><text x="1936" y="227">1</text>
<circle cx="1954" cy="194"/><text x="1954" y="194">3</text><circle cx="1992" cy="202"/><text x="1992" y="202">1</text>
<circle cx="2032" cy="219"/><text x="2032" y="219">1</text><circle cx="2034" cy="228"/><text x="2034" y="228">1</text>
<circle cx="2037" cy="248"/><text x="2037" y="248">1</text><circle cx="2037" cy="259"/><text x="2037" y="259">1</text>
<circle cx="2038" cy="278"/><text x="2038" y="278">1</text><circle cx="2038" cy="288"/><text x="2038" y="288">1</text>
<circle cx="2039" cy="306"/><text x="2039" y="306">1</text><circle cx="2038" cy="316"/><text x="2038" y="316">1</text>
<circle cx="2007" cy="337"/><text x="2007" y="337">1</text><circle cx="1976" cy="350"/><text x="1976" y="350">3</text>
<circle cx="1946" cy="285"/><text x="1946" y="285">1</text><circle cx="1945" cy="324"/><text x="1945" y="324">1</text>
<circle cx="1893" cy="293"/><text x="1893" y="293">1</text><circle cx="1919" cy="328"/><text x="1919" y="328">2</text>
<circle cx="1946" cy="382"/><text x="1946" y="382">1</text><circle cx="1948" cy="402"/><text x="1948" y="402">1</text>
<circle cx="1913" cy="448"/><text x="1913" y="448">2</text><circle cx="1876" cy="475"/><text x="1876" y="475">1</text>
<circle cx="1952" cy="457"/><text x="1952" y="457">3</text><circle cx="1955" cy="491"/><text x="1955" y="491">1</text>
<circle cx="1991" cy="508"/><text x="1991" y="508">4</text><circle cx="2033" cy="595"/><text x="2033" y="595">3</text>
<circle cx="1983" cy="438"/><text x="1983" y="438">1</text><circle cx="2018" cy="453"/><text x="2018" y="453">1</text>
<circle cx="2060" cy="540"/><text x="2060" y="540">1</text><circle cx="2067" cy="610"/><text x="2067" y="610">4</text>
<circle cx="1821" cy="514"/><text x="1821" y="514">1</text><circle cx="1802" cy="528"/><text x="1802" y="528">1</text>
<circle cx="1848" cy="553"/><text x="1848" y="553">2</text><circle cx="1856" cy="605"/><text x="1856" y="605">1</text>
<circle cx="1782" cy="550"/><text x="1782" y="550">1</text><circle cx="1780" cy="560"/><text x="1780" y="560">1</text>
<circle cx="1779" cy="578"/><text x="1779" y="578">1</text><circle cx="1780" cy="586"/><text x="1780" y="586">1</text>
<circle cx="1807" cy="598"/><text x="1807" y="598">1</text><circle cx="1836" cy="628"/><text x="1836" y="628">2</text>
<circle cx="1961" cy="542"/><text x="1961" y="542">1</text><circle cx="1963" cy="557"/><text x="1963" y="557">1</text>
<circle cx="1967" cy="588"/><text x="1967" y="588">1</text><circle cx="1968" cy="602"/><text x="1968" y="602">1</text>
<circle cx="2004" cy="638"/><text x="2004" y="638">1</text><circle cx="2040" cy="660"/><text x="2040" y="660">1</text>
<circle cx="1934" cy="665"/><text x="1934" y="665">1</text><circle cx="2005" cy="673"/><text x="2005" y="673">2</text>
<circle cx="2077" cy="707"/><text x="2077" y="707">1</text><circle cx="2080" cy="733"/><text x="2080" y="733">1</text>
<circle cx="2079" cy="777"/><text x="2079" y="777">1</text><circle cx="2077" cy="796"/><text x="2077" y="796">1</text>
<circle cx="2071" cy="982"/><text x="2071" y="982">1</text><circle cx="2069" cy="1150"/><text x="2069" y="1150">2</text>
<circle cx="1943" cy="930"/><text x="1943" y="930">2</text><circle cx="1893" cy="942"/><text x="1893" y="942">1</text>
<circle cx="1998" cy="1040"/><text x="1998" y="1040">1</text><circle cx="2003" cy="1160"/><text x="2003" y="1160">1</text>
<circle cx="1836" cy="969"/><text x="1836" y="969">1</text><circle cx="1828" cy="986"/><text x="1828" y="986">1</text>
<circle cx="1859" cy="982"/><text x="1859" y="982">2</text><circle cx="1874" cy="1012"/><text x="1874" y="1012">1</text>
<circle cx="1820" cy="1026"/><text x="1820" y="1026">1</text><circle cx="1819" cy="1049"/><text x="1819" y="1049">1</text>
<circle cx="1814" cy="1091"/><text x="1814" y="1091">2</text><circle cx="1809" cy="1109"/><text x="1809" y="1109">1</text>
<circle cx="1834" cy="1104"/><text x="1834" y="1104">1</text><circle cx="1848" cy="1134"/><text x="1848" y="1134">2</text>
<circle cx="1880" cy="1082"/><text x="1880" y="1082">1</text><circle cx="1872" cy="1124"/><text x="1872" y="1124">1</text>
<circle cx="1868" cy="1179"/><text x="1868" y="1179">1</text><circle cx="1874" cy="1193"/><text x="1874" y="1193">1</text>
<circle cx="1890" cy="1218"/><text x="1890" y="1218">1</text><circle cx="1901" cy="1228"/><text x="1901" y="1228">1</text>
<circle cx="1944" cy="1253"/><text x="1944" y="1253">1</text><circle cx="1977" cy="1267"/><text x="1977" y="1267">2</text>
<circle cx="2028" cy="1293"/><text x="2028" y="1293">1</text><circle cx="2047" cy="1306"/><text x="2047" y="1306">1</text>
<circle cx="2362" cy="61"/><text x="2362" y="61">1</text><circle cx="2365" cy="74"/><text x="2365" y="74">1</text>
<circle cx="2367" cy="95"/><text x="2367" y="95">1</text><circle cx="2367" cy="104"/><text x="2367" y="104">1</text>
<circle cx="2318" cy="128"/><text x="2318" y="128">1</text><circle cx="2271" cy="145"/><text x="2271" y="145">1</text>
<circle cx="2273" cy="165"/><text x="2273" y="165">1</text><circle cx="2324" cy="168"/><text x="2324" y="168">1</text>
<circle cx="2340" cy="179"/><text x="2340" y="179">1</text><circle cx="2307" cy="186"/><text x="2307" y="186">1</text>
<circle cx="2241" cy="202"/><text x="2241" y="202">1</text><circle cx="2208" cy="210"/><text x="2208" y="210">1</text>
<circle cx="2278" cy="211"/><text x="2278" y="211">2</text><circle cx="2284" cy="229"/><text x="2284" y="229">2</text>
<circle cx="2214" cy="228"/><text x="2214" y="228">1</text><circle cx="2251" cy="238"/><text x="2251" y="238">1</text>
<circle cx="2377" cy="194"/><text x="2377" y="194">2</text><circle cx="2379" cy="215"/><text x="2379" y="215">1</text>
<circle cx="2408" cy="184"/><text x="2408" y="184">3</text><circle cx="2442" cy="197"/><text x="2442" y="197">1</text>
<circle cx="2475" cy="218"/><text x="2475" y="218">1</text><circle cx="2475" cy="228"/><text x="2475" y="228">1</text>
<circle cx="2474" cy="248"/><text x="2474" y="248">1</text><circle cx="2474" cy="258"/><text x="2474" y="258">1</text>
<circle cx="2475" cy="278"/><text x="2475" y="278">1</text><circle cx="2476" cy="288"/><text x="2476" y="288">1</text>
<circle cx="2476" cy="306"/><text x="2476" y="306">1</text><circle cx="2475" cy="316"/><text x="2475" y="316">1</text>
<circle cx="2441" cy="337"/><text x="2441" y="337">1</text><circle cx="2409" cy="350"/><text x="2409" y="350">3</text>
<circle cx="2380" cy="279"/><text x="2380" y="279">1</text><circle cx="2378" cy="320"/><text x="2378" y="320">1</text>
<circle cx="2318" cy="285"/><text x="2318" y="285">1</text><circle cx="2347" cy="324"/><text x="2347" y="324">2</text>
<circle cx="2367" cy="382"/><text x="2367" y="382">1</text><circle cx="2358" cy="403"/><text x="2358" y="403">1</text>
<circle cx="2312" cy="449"/><text x="2312" y="449">2</text><circle cx="2275" cy="474"/><text x="2275" y="474">1</text>
<circle cx="2351" cy="457"/><text x="2351" y="457">3</text><circle cx="2354" cy="492"/><text x="2354" y="492">1</text>
<circle cx="2394" cy="508"/><text x="2394" y="508">4</text><circle cx="2439" cy="592"/><text x="2439" y="592">3</text>
<circle cx="2383" cy="436"/><text x="2383" y="436">1</text><circle cx="2416" cy="448"/><text x="2416" y="448">1</text>
<circle cx="2461" cy="533"/><text x="2461" y="533">1</text><circle cx="2473" cy="605"/><text x="2473" y="605">4</text>
<circle cx="2219" cy="514"/><text x="2219" y="514">1</text><circle cx="2200" cy="527"/><text x="2200" y="527">1</text>
<circle cx="2246" cy="552"/><text x="2246" y="552">2</text><circle cx="2254" cy="605"/><text x="2254" y="605">1</text>
<circle cx="2180" cy="550"/><text x="2180" y="550">1</text><circle cx="2179" cy="560"/><text x="2179" y="560">1</text>
<circle cx="2178" cy="578"/><text x="2178" y="578">1</text><circle cx="2178" cy="586"/><text x="2178" y="586">1</text>
<circle cx="2206" cy="598"/><text x="2206" y="598">1</text><circle cx="2234" cy="628"/><text x="2234" y="628">2</text>
<circle cx="2359" cy="542"/><text x="2359" y="542">1</text><circle cx="2361" cy="557"/><text x="2361" y="557">1</text>
<circle cx="2365" cy="588"/><text x="2365" y="588">1</text><circle cx="2365" cy="602"/><text x="2365" y="602">1</text>
<circle cx="2405" cy="637"/><text x="2405" y="637">1</text><circle cx="2445" cy="657"/><text x="2445" y="657">1</text>
<circle cx="2336" cy="664"/><text x="2336" y="664">1</text><circle cx="2410" cy="670"/><text x="2410" y="670">2</text>
<circle cx="2480" cy="710"/><text x="2480" y="710">1</text><circle cx="2476" cy="742"/><text x="2476" y="742">1</text>
<circle cx="2476" cy="789"/><text x="2476" y="789">1</text><circle cx="2480" cy="803"/><text x="2480" y="803">1</text>
<circle cx="2488" cy="977"/><text x="2488" y="977">1</text><circle cx="2492" cy="1138"/><text x="2492" y="1138">2</text>
<circle cx="2352" cy="929"/><text x="2352" y="929">2</text><circle cx="2282" cy="941"/><text x="2282" y="941">1</text>
<circle cx="2422" cy="1032"/><text x="2422" y="1032">1</text><circle cx="2421" cy="1148"/><text x="2421" y="1148">1</text>
<circle cx="2204" cy="969"/><text x="2204" y="969">1</text><circle cx="2196" cy="985"/><text x="2196" y="985">1</text>
<circle cx="2227" cy="982"/><text x="2227" y="982">2</text><circle cx="2243" cy="1010"/><text x="2243" y="1010">1</text>
<circle cx="2188" cy="1025"/><text x="2188" y="1025">1</text><circle cx="2188" cy="1049"/><text x="2188" y="1049">1</text>
<circle cx="2183" cy="1090"/><text x="2183" y="1090">2</text><circle cx="2178" cy="1108"/><text x="2178" y="1108">1</text>
<circle cx="2202" cy="1104"/><text x="2202" y="1104">1</text><circle cx="2217" cy="1134"/><text x="2217" y="1134">2</text>
<circle cx="2249" cy="1081"/><text x="2249" y="1081">1</text><circle cx="2240" cy="1123"/><text x="2240" y="1123">1</text>
<circle cx="2237" cy="1178"/><text x="2237" y="1178">1</text><circle cx="2243" cy="1192"/><text x="2243" y="1192">1</text>
<circle cx="2256" cy="1216"/><text x="2256" y="1216">1</text><circle cx="2263" cy="1226"/><text x="2263" y="1226">1</text>
<circle cx="2320" cy="1246"/><text x="2320" y="1246">1</text><circle cx="2371" cy="1254"/><text x="2371" y="1254">2</text>
<circle cx="2446" cy="1275"/><text x="2446" y="1275">1</text><circle cx="2471" cy="1286"/><text x="2471" y="1286">1</text>
<circle cx="2730" cy="63"/><text x="2730" y="63">1</text><circle cx="2732" cy="77"/><text x="2732" y="77">1</text>
<circle cx="2734" cy="98"/><text x="2734" y="98">1</text><circle cx="2733" cy="107"/><text x="2733" y="107">1</text>
<circle cx="2682" cy="123"/><text x="2682" y="123">1</text><circle cx="2632" cy="132"/><text x="2632" y="132">1</text>
<circle cx="2645" cy="151"/><text x="2645" y="151">1</text><circle cx="2709" cy="161"/><text x="2709" y="161">1</text>
<circle cx="2750" cy="182"/><text x="2750" y="182">1</text><circle cx="2727" cy="193"/><text x="2727" y="193">1</text>
<circle cx="2674" cy="211"/><text x="2674" y="211">1</text><circle cx="2645" cy="219"/><text x="2645" y="219">1</text>
<circle cx="2712" cy="220"/><text x="2712" y="220">2</text><circle cx="2719" cy="238"/><text x="2719" y="238">2</text>
<circle cx="2652" cy="236"/><text x="2652" y="236">1</text><circle cx="2690" cy="246"/><text x="2690" y="246">1</text>
<circle cx="2784" cy="195"/><text x="2784" y="195">2</text><circle cx="2794" cy="219"/><text x="2794" y="219">1</text>
<circle cx="2813" cy="184"/><text x="2813" y="184">3</text><circle cx="2853" cy="195"/><text x="2853" y="195">1</text>
<circle cx="2896" cy="216"/><text x="2896" y="216">1</text><circle cx="2900" cy="224"/><text x="2900" y="224">1</text>
<circle cx="2903" cy="244"/><text x="2903" y="244">1</text><circle cx="2903" cy="254"/><text x="2903" y="254">1</text>
<circle cx="2903" cy="274"/><text x="2903" y="274">1</text><circle cx="2903" cy="284"/><text x="2903" y="284">1</text>
<circle cx="2903" cy="302"/><text x="2903" y="302">1</text><circle cx="2904" cy="312"/><text x="2904" y="312">1</text>
<circle cx="2864" cy="331"/><text x="2864" y="331">1</text><circle cx="2823" cy="342"/><text x="2823" y="342">3</text>
<circle cx="2798" cy="279"/><text x="2798" y="279">1</text><circle cx="2790" cy="315"/><text x="2790" y="315">1</text>
<circle cx="2746" cy="287"/><text x="2746" y="287">1</text><circle cx="2764" cy="320"/><text x="2764" y="320">2</text>
<circle cx="2774" cy="378"/><text x="2774" y="378">1</text><circle cx="2765" cy="405"/><text x="2765" y="405">1</text>
<circle cx="2725" cy="455"/><text x="2725" y="455">2</text><circle cx="2695" cy="478"/><text x="2695" y="478">1</text>
<circle cx="2765" cy="463"/><text x="2765" y="463">3</text><circle cx="2774" cy="495"/><text x="2774" y="495">1</text>
<circle cx="2804" cy="515"/><text x="2804" y="515">4</text><circle cx="2851" cy="598"/><text x="2851" y="598">3</text>
<circle cx="2795" cy="445"/><text x="2795" y="445">1</text><circle cx="2834" cy="460"/><text x="2834" y="460">1</text>
<circle cx="2882" cy="543"/><text x="2882" y="543">1</text><circle cx="2890" cy="613"/><text x="2890" y="613">4</text>
<circle cx="2645" cy="515"/><text x="2645" y="515">1</text><circle cx="2626" cy="529"/><text x="2626" y="529">1</text>
<circle cx="2672" cy="554"/><text x="2672" y="554">2</text><circle cx="2680" cy="606"/><text x="2680" y="606">1</text>
<circle cx="2606" cy="551"/><text x="2606" y="551">1</text><circle cx="2605" cy="561"/><text x="2605" y="561">1</text>
<circle cx="2604" cy="579"/><text x="2604" y="579">1</text><circle cx="2604" cy="588"/><text x="2604" y="588">1</text>
<circle cx="2632" cy="599"/><text x="2632" y="599">1</text><circle cx="2660" cy="629"/><text x="2660" y="629">2</text>
<circle cx="2785" cy="543"/><text x="2785" y="543">1</text><circle cx="2788" cy="558"/><text x="2788" y="558">1</text>
<circle cx="2791" cy="589"/><text x="2791" y="589">1</text><circle cx="2791" cy="603"/><text x="2791" y="603">1</text>
<circle cx="2828" cy="639"/><text x="2828" y="639">1</text><circle cx="2863" cy="661"/><text x="2863" y="661">1</text>
<circle cx="2758" cy="666"/><text x="2758" y="666">1</text><circle cx="2829" cy="674"/><text x="2829" y="674">2</text>
<circle cx="2894" cy="712"/><text x="2894" y="712">1</text><circle cx="2888" cy="743"/><text x="2888" y="743">1</text>
<circle cx="2889" cy="790"/><text x="2889" y="790">1</text><circle cx="2894" cy="806"/><text x="2894" y="806">1</text>
<circle cx="2904" cy="982"/><text x="2904" y="982">1</text><circle cx="2908" cy="1142"/><text x="2908" y="1142">2</text>
<circle cx="2763" cy="922"/><text x="2763" y="922">2</text><circle cx="2701" cy="938"/><text x="2701" y="938">1</text>
<circle cx="2833" cy="1026"/><text x="2833" y="1026">1</text><circle cx="2841" cy="1146"/><text x="2841" y="1146">1</text>
<circle cx="2631" cy="970"/><text x="2631" y="970">1</text><circle cx="2623" cy="986"/><text x="2623" y="986">1</text>
<circle cx="2654" cy="982"/><text x="2654" y="982">2</text><circle cx="2669" cy="1012"/><text x="2669" y="1012">1</text>
<circle cx="2615" cy="1026"/><text x="2615" y="1026">1</text><circle cx="2614" cy="1050"/><text x="2614" y="1050">1</text>
<circle cx="2609" cy="1090"/><text x="2609" y="1090">2</text><circle cx="2604" cy="1108"/><text x="2604" y="1108">1</text>
<circle cx="2629" cy="1104"/><text x="2629" y="1104">1</text><circle cx="2643" cy="1134"/><text x="2643" y="1134">2</text>
<circle cx="2675" cy="1082"/><text x="2675" y="1082">1</text><circle cx="2667" cy="1124"/><text x="2667" y="1124">1</text>
<circle cx="2664" cy="1179"/><text x="2664" y="1179">1</text><circle cx="2669" cy="1193"/><text x="2669" y="1193">1</text>
<circle cx="2682" cy="1218"/><text x="2682" y="1218">1</text><circle cx="2689" cy="1230"/><text x="2689" y="1230">1</text>
<circle cx="2747" cy="1249"/><text x="2747" y="1249">1</text><circle cx="2798" cy="1257"/><text x="2798" y="1257">2</text>
<circle cx="2870" cy="1277"/><text x="2870" y="1277">1</text><circle cx="2891" cy="1289"/><text x="2891" y="1289">1</text>
</g>
</g>
<g id="A_input" class="n r"><rect x="383" y="103" width="60" height="16"/><text x="413" y="111">Input image</text></g>
<g id="A_glc_nuclei1" class="n r"><rect x="346" y="139" width="137" height="16"/><text x="414.5" y="147">Get Linked Channel : nuclei</text></g>
<g id="A_if1" class="n"><rect x="412" y="169" width="13" height="18"/><text x="418.5" y="178">If</text></g>
<g id="A_nothing" class="n"><rect x="245" y="191" width="43" height="16"/><text x="266.5" y="199">Nothing</text></g>
<g id="A_copy2" class="n r"><rect x="130" y="187" width="32" height="16"/><text x="146" y="195">Copy</text></g>
<g id="A_copy1" class="n r"><rect x="34" y="193" width="32" height="16"/><text x="50" y="201">Copy</text></g>
<g id="A_wiener" class="n"><rect x="89" y="213" width="106" height="16"/><text x="142" y="221">Wiener Filter Smooth</text></g>
<g id="A_subbg" class="n"><rect x="89" y="237" width="109" height="16"/><text x="143.5" y="245">Subtract Background</text></g>
<g id="A_thr1" class="n"><rect x="117" y="262" width="54" height="16"/><text x="144" y="270">Threshold</text></g>
<g id="A_ssc1" class="n"><rect x="70" y="287" width="145" height="16"/><text x="142.5" y="295">Set Segmentation Classifiers</text></g>
<g id="A_ssc2" class="n"><rect x="70" y="311" width="145" height="16"/><text x="142.5" y="319">Set Segmentation Classifiers</text></g>
<g id="A_ss1" class="n"><rect x="89" y="337" width="106" height="16"/><text x="142" y="345">Simple Segmentation</text></g>
<g id="A_thr2" class="n"><rect x="117" y="361" width="54" height="16"/><text x="144" y="369">Threshold</text></g>
<g id="A_thrL" class="n"><rect x="6" y="358" width="54" height="16"/><text x="33" y="366">Threshold</text></g>
<g id="A_iaip" class="n"><rect x="64" y="389" width="125" height="17"/><text x="126.5" y="397.5">Image Arithmetic In Place</text></g>
<g id="A_morph" class="n"><rect x="76" y="424" width="116" height="17"/><text x="134" y="432.5">Morphological operator</text></g>
<g id="A_close" class="n"><rect x="4" y="439" width="34" height="16"/><text x="21" y="447">Close</text></g>
<g id="A_ss2" class="n"><rect x="89" y="455" width="106" height="16"/><text x="142" y="463">Simple Segmentation</text></g>
<g id="A_crop" class="n"><rect x="109" y="479" width="69" height="16"/><text x="143.5" y="487">Crop in place</text></g>
<g id="A_roi" class="n"><rect x="114" y="505" width="59" height="16"/><text x="143.5" y="513">Create ROI</text></g>
<g id="A_rename" class="n"><rect x="104" y="529" width="77" height="16"/><text x="142.5" y="537">Rename Image</text></g>
<g id="A_mask" class="n"><rect x="234" y="487" width="63" height="16"/><text x="265.5" y="495">Mask Image</text></g>
<g id="A_endif1" class="n"><rect x="462" y="354" width="31" height="17"/><text x="477.5" y="362.5">EndIf</text></g>
<g id="A_copy3" class="n r"><rect x="574" y="336" width="32" height="16"/><text x="590" y="344">Copy</text></g>
<g id="A_copyrois" class="n"><rect x="510" y="387" width="58" height="16"/><text x="539" y="395">Copy ROIs</text></g>
<g id="A_renamen" class="n"><rect x="541" y="413" width="76" height="16"/><text x="579" y="421">Rename:nuclei</text></g>
<g id="A_glc_nuclei2" class="n r"><rect x="552" y="137" width="138" height="16"/><text x="621" y="145">Get Linked Channel : nuclei</text></g>
<g id="A_glc" class="n r"><rect x="673" y="367" width="100" height="16"/><text x="723" y="375">Get Linked Channel</text></g>
<g id="A_if2" class="n"><rect x="526" y="444" width="12" height="16"/><text x="532" y="452">If</text></g>
<g id="A_subbg2" class="n"><rect x="539" y="489" width="108" height="17"/><text x="593" y="497.5">Subtract Background</text></g>
<g id="A_endif2" class="n"><rect x="441" y="499" width="32" height="17"/><text x="457" y="507.5">EndIf</text></g>
<g id="A_select" class="n"><rect x="472" y="540" width="36" height="17"/><text x="490" y="548.5">Select</text></g>
<g id="A_wait" class="n"><rect x="301" y="601" width="90" height="16"/><text x="346" y="609">Wait for all inputs</text></g>
<g id="A_copy4" class="n r"><rect x="273" y="641" width="31" height="16"/><text x="288.5" y="649">Copy</text></g>
<g id="A_median" class="n"><rect x="244" y="669" width="81" height="16"/><text x="284.5" y="677">2D Median filter</text></g>
<g id="A_close2" class="n"><rect x="271" y="695" width="33" height="16"/><text x="287.5" y="703">Close</text></g>
<g id="A_inpaint" class="n"><rect x="432" y="625" width="66" height="17"/><text x="465" y="633.5">Inpaint Mask</text></g>
<g id="A_subbg3" class="n"><rect x="573" y="625" width="108" height="17"/><text x="627" y="633.5">Subtract Background</text></g>
<g id="A_dft" class="n"><rect x="389" y="673" width="165" height="16"/><text x="471.5" y="681">2D DFT Butterworth BP filter tiled</text></g>
<g id="A_thr3" class="n"><rect x="449" y="717" width="54" height="16"/><text x="476" y="725">Threshold</text></g>
<g id="A_endif3" class="n"><rect x="530" y="749" width="31" height="16"/><text x="545.5" y="757">EndIf</text></g>
<g id="A_iaip2" class="n"><rect x="308" y="757" width="126" height="16"/><text x="371" y="765">Image Aritmetics In Place</text></g>
<g id="A_if3" class="n"><rect x="441" y="785" width="12" height="17"/><text x="447" y="793.5">If</text></g>
<g id="A_iaip3" class="n"><rect x="229" y="815" width="125" height="16"/><text x="291.5" y="823">Image Arithmetic In Place</text></g>
<g id="A_endif4" class="n"><rect x="481" y="831" width="30" height="16"/><text x="496" y="839">EndIf</text></g>
<g id="A_wiener2" class="n"><rect x="442" y="857" width="106" height="16"/><text x="495" y="865">Wiener Filter Smooth</text></g>
<g id="A_ssl1" class="n"><rect x="340" y="888" width="81" height="17"/><text x="380.5" y="896.5">Set scaling/LUT</text></g>
<g id="A_select2" class="n"><rect x="475" y="887" width="37" height="16"/><text x="493.5" y="895">Select</text></g>
<g id="A_ssl2" class="n"><rect x="457" y="913" width="82" height="17"/><text x="498" y="921.5">Set scaling/LUT</text></g>
<g id="A_branch" class="n"><rect x="614" y="907" width="41" height="16"/><text x="634.5" y="915">Branch</text></g>
<g id="A_ssl3" class="n"><rect x="528" y="946" width="82" height="16"/><text x="569" y="954">Set scaling/LUT</text></g>
<g id="A_endif5" class="n"><rect x="451" y="971" width="30" height="17"/><text x="466" y="979.5">EndIf</text></g>
<g id="A_runexe" class="n r"><rect x="441" y="1009" width="48" height="17"/><text x="465" y="1017.5">Run EXE</text></g>
<g id="A_copy5" class="n r"><rect x="653" y="961" width="32" height="16"/><text x="669" y="969">Copy</text></g>
<g id="A_sri1" class="n"><rect x="610" y="1002" width="108" height="16"/><text x="664" y="1010">Set Reference Image</text></g>
<g id="A_sri2" class="n"><rect x="614" y="1039" width="107" height="16"/><text x="667.5" y="1047">Set Reference Image</text></g>
<g id="A_rename2" class="n"><rect x="615" y="1070" width="76" height="16"/><text x="653" y="1078">Rename Image</text></g>
<g id="A_ssc3" class="n"><rect x="393" y="1047" width="144" height="16"/><text x="465" y="1055">Set Segmentation Classifiers</text></g>
<g id="A_ssc4" class="n"><rect x="393" y="1073" width="144" height="16"/><text x="465" y="1081">Set Segmentation Classifiers</text></g>
<g id="A_reeval" class="n"><rect x="409" y="1097" width="112" height="16"/><text x="465" y="1105">Reevaluate Segments</text></g>
<g id="M_sbn1" class="n"><rect x="891" y="5" width="91" height="16"/><text x="936.5" y="13">Select by Number</text></g>
<g id="M_sbn2" class="n"><rect x="905" y="164" width="92" height="16"/><text x="951" y="172">Select by Number</text></g>
<g id="M_sbn3" class="n"><rect x="1170" y="853" width="92" height="16"/><text x="1216" y="861">Select by Number</text></g>
<g id="M_rename" class="n"><rect x="1134" y="1282" width="76" height="16"/><text x="1172" y="1290">Rename Image</text></g>
<g id="M_plotmorph" class="n g"><rect x="1094" y="1323" width="151" height="16"/><text x="1169.5" y="1331">Plot Morphological Parameters</text></g>
<g id="C1_glc" class="n r"><rect x="1421" y="59" width="137" height="16"/><text x="1489.5" y="67">Get Linked Channel : label1</text></g>
<g id="C1_copy" class="n r"><rect x="1477" y="93" width="32" height="16"/><text x="1493" y="101">Copy</text></g>
<g id="C1_rename" class="n"><rect x="1451" y="118" width="77" height="16"/><text x="1489.5" y="126">Rename Image</text></g>
<g id="C1_link" class="n"><rect x="1301" y="137" width="74" height="16"/><text x="1338" y="145">Link Windows</text></g>
<g id="C1_sfod" class="n"><rect x="1478" y="188" width="82" height="16"/><text x="1519" y="196">Select Fluor/OD</text></g>
<g id="C1_if" class="n"><rect x="1438" y="209" width="13" height="17"/><text x="1444.5" y="217.5">If</text></g>
<g id="C1_subbg" class="n"><rect x="1282" y="223" width="109" height="16"/><text x="1336.5" y="231">Subtract Background</text></g>
<g id="C1_endif" class="n"><rect x="1433" y="258" width="30" height="17"/><text x="1448" y="266.5">EndIf</text></g>
<g id="C1_od2" class="n"><rect x="1483" y="272" width="78" height="17"/><text x="1522" y="280.5">Optical density</text></g>
<g id="C1_od1" class="n"><rect x="1582" y="234" width="78" height="17"/><text x="1621" y="242.5">Optical density</text></g>
<g id="C1_t1" class="n"><rect x="1593" y="259" width="55" height="16"/><text x="1620.5" y="267">Threshold</text></g>
<g id="C1_t2" class="n"><rect x="1594" y="291" width="55" height="16"/><text x="1621.5" y="299">Threshold</text></g>
<g id="C1_dft" class="n"><rect x="1601" y="319" width="42" height="16"/><text x="1622" y="327">2D DFT</text></g>
<g id="C1_t3" class="n"><rect x="1594" y="347" width="55" height="16"/><text x="1621.5" y="355">Threshold</text></g>
<g id="C1_endif2" class="n"><rect x="1518" y="348" width="31" height="17"/><text x="1533.5" y="356.5">EndIf</text></g>
<g id="C1_select" class="n"><rect x="1514" y="403" width="37" height="17"/><text x="1532.5" y="411.5">Select</text></g>
<g id="C1_wait" class="n"><rect x="1371" y="490" width="90" height="17"/><text x="1416" y="498.5">Wait for all inputs</text></g>
<g id="C1_copy2" class="n r"><rect x="1344" y="530" width="31" height="16"/><text x="1359.5" y="538">Copy</text></g>
<g id="C1_median" class="n"><rect x="1315" y="558" width="81" height="16"/><text x="1355.5" y="566">2D Median filter</text></g>
<g id="C1_close" class="n"><rect x="1341" y="586" width="34" height="16"/><text x="1358" y="594">Close</text></g>
<g id="C1_iaip" class="n"><rect x="1379" y="646" width="126" height="16"/><text x="1442" y="654">Image Aritmetics In Place</text></g>
<g id="C1_inpaint" class="n"><rect x="1524" y="518" width="65" height="16"/><text x="1556.5" y="526">Inpaint Mask</text></g>
<g id="C1_subbg2" class="n"><rect x="1603" y="475" width="109" height="16"/><text x="1657.5" y="483">Subtract Background</text></g>
<g id="C1_dftbp" class="n"><rect x="1480" y="565" width="165" height="16"/><text x="1562.5" y="573">2D DFT Butterworth BP filter tiled</text></g>
<g id="C1_thr" class="n"><rect x="1539" y="610" width="55" height="16"/><text x="1566.5" y="618">Threshold</text></g>
<g id="C1_endif3" class="n"><rect x="1666" y="666" width="31" height="17"/><text x="1681.5" y="674.5">EndIf</text></g>
<g id="C1_below" class="n"><rect x="1592" y="742" width="145" height="16"/><text x="1664.5" y="750">Add extra processing below</text></g>
<g id="C1_above" class="n"><rect x="1590" y="793" width="145" height="16"/><text x="1662.5" y="801">Add extra processing above</text></g>
<g id="B1_select" class="n"><rect x="1614" y="948" width="37" height="18"/><text x="1632.5" y="957">Select</text></g>
<g id="B1_copy" class="n r"><rect x="1477" y="951" width="32" height="16"/><text x="1493" y="959">Copy</text></g>
<g id="B1_copy2" class="n r"><rect x="1453" y="1001" width="31" height="16"/><text x="1468.5" y="1009">Copy</text></g>
<g id="B1_morph" class="n"><rect x="1479" y="1037" width="116" height="16"/><text x="1537" y="1045">Morphological operator</text></g>
<g id="B1_thr" class="n"><rect x="1440" y="1071" width="55" height="16"/><text x="1467.5" y="1079">Threshold</text></g>
<g id="B1_close" class="n"><rect x="1435" y="1125" width="34" height="17"/><text x="1452" y="1133.5">Close</text></g>
<g id="B1_iaip" class="n"><rect x="1448" y="1163" width="126" height="17"/><text x="1511" y="1171.5">Image Aritmetics In Place</text></g>
<g id="B1_rename" class="n"><rect x="1489" y="1205" width="76" height="17"/><text x="1527" y="1213.5">Rename Image</text></g>
<g id="B1_reeval" class="n"><rect x="1495" y="1245" width="112" height="16"/><text x="1551" y="1253">Reevaluate Segments</text></g>
<g id="B1_endifseg" class="n"><rect x="1636" y="1281" width="59" height="17"/><text x="1665.5" y="1289.5">EndIf - seg</text></g>
<g id="B1_plot" class="n g"><rect x="1678" y="1321" width="120" height="16"/><text x="1738" y="1329">Plot Segment Intensities</text></g>
<g id="C2_glc" class="n r"><rect x="1834" y="49" width="137" height="16"/><text x="1902.5" y="57">Get Linked Channel : label2</text></g>
<g id="C2_copy" class="n r"><rect x="1901" y="90" width="31" height="17"/><text x="1916.5" y="98.5">Copy</text></g>
<g id="C2_rename" class="n"><rect x="1877" y="115" width="76" height="17"/><text x="1915" y="123.5">Rename Image</text></g>
<g id="C2_link" class="n"><rect x="1714" y="133" width="75" height="16"/><text x="1751.5" y="141">Link Windows</text></g>
<g id="C2_sfod" class="n"><rect x="1877" y="179" width="81" height="16"/><text x="1917.5" y="187">Select Fluor/OD</text></g>
<g id="C2_if" class="n"><rect x="1838" y="207" width="13" height="16"/><text x="1844.5" y="215">If</text></g>
<g id="C2_subbg" class="n"><rect x="1700" y="223" width="109" height="17"/><text x="1754.5" y="231.5">Subtract Background</text></g>
<g id="C2_endif" class="n"><rect x="1852" y="251" width="30" height="16"/><text x="1867" y="259">EndIf</text></g>
<g id="C2_od2" class="n"><rect x="1908" y="239" width="77" height="17"/><text x="1946.5" y="247.5">Optical density</text></g>
<g id="C2_od1" class="n"><rect x="1990" y="201" width="78" height="17"/><text x="2029" y="209.5">Optical density</text></g>
<g id="C2_t1" class="n"><rect x="2010" y="230" width="55" height="17"/><text x="2037.5" y="238.5">Threshold</text></g>
<g id="C2_t2" class="n"><rect x="2010" y="261" width="55" height="17"/><text x="2037.5" y="269.5">Threshold</text></g>
<g id="C2_dft" class="n"><rect x="2019" y="289" width="41" height="16"/><text x="2039.5" y="297">2D DFT</text></g>
<g id="C2_t3" class="n"><rect x="2011" y="317" width="55" height="16"/><text x="2038.5" y="325">Threshold</text></g>
<g id="C2_endif2" class="n"><rect x="1930" y="354" width="30" height="17"/><text x="1945" y="362.5">EndIf</text></g>
<g id="C2_select" class="n"><rect x="1931" y="413" width="36" height="18"/><text x="1949" y="422">Select</text></g>
<g id="C2_wait" class="n"><rect x="1796" y="493" width="89" height="16"/><text x="1840.5" y="501">Wait for all inputs</text></g>
<g id="C2_copy2" class="n r"><rect x="1767" y="533" width="32" height="16"/><text x="1783" y="541">Copy</text></g>
<g id="C2_median" class="n"><rect x="1739" y="561" width="81" height="16"/><text x="1779.5" y="569">2D Median filter</text></g>
<g id="C2_close" class="n"><rect x="1764" y="587" width="33" height="16"/><text x="1780.5" y="595">Close</text></g>
<g id="C2_iaip" class="n"><rect x="1801" y="649" width="126" height="16"/><text x="1864" y="657">Image Aritmetics In Place</text></g>
<g id="C2_inpaint" class="n"><rect x="1925" y="518" width="66" height="16"/><text x="1958" y="526">Inpaint Mask</text></g>
<g id="C2_subbg2" class="n"><rect x="1998" y="461" width="108" height="16"/><text x="2052" y="469">Subtract Background</text></g>
<g id="C2_dftbp" class="n"><rect x="1884" y="565" width="164" height="16"/><text x="1966" y="573">2D DFT Butterworth BP filter tiled</text></g>
<g id="C2_thr" class="n"><rect x="1942" y="609" width="55" height="16"/><text x="1969.5" y="617">Threshold</text></g>
<g id="C2_endif3" class="n"><rect x="2060" y="673" width="30" height="16"/><text x="2075" y="681">EndIf</text></g>
<g id="C2_below" class="n"><rect x="2010" y="751" width="145" height="16"/><text x="2082.5" y="759">Add extra processing below</text></g>
<g id="C2_above" class="n"><rect x="2002" y="806" width="145" height="16"/><text x="2074.5" y="814">Add extra processing above</text></g>
<g id="B2_select" class="n"><rect x="1975" y="911" width="35" height="16"/><text x="1992.5" y="919">Select</text></g>
<g id="B2_copy" class="n r"><rect x="1829" y="945" width="31" height="16"/><text x="1844.5" y="953">Copy</text></g>
<g id="B2_copy2" class="n r"><rect x="1805" y="994" width="31" height="17"/><text x="1820.5" y="1002.5">Copy</text></g>
<g id="B2_morph" class="n"><rect x="1831" y="1033" width="116" height="17"/><text x="1889" y="1041.5">Morphological operator</text></g>
<g id="B2_thr" class="n"><rect x="1792" y="1065" width="55" height="17"/><text x="1819.5" y="1073.5">Threshold</text></g>
<g id="B2_close" class="n"><rect x="1788" y="1119" width="33" height="16"/><text x="1804.5" y="1127">Close</text></g>
<g id="B2_iaip" class="n"><rect x="1800" y="1157" width="126" height="16"/><text x="1863" y="1165">Image Aritmetics In Place</text></g>
<g id="B2_rename" class="n"><rect x="1841" y="1199" width="76" height="17"/><text x="1879" y="1207.5">Rename Image</text></g>
<g id="B2_reeval" class="n"><rect x="1856" y="1231" width="112" height="16"/><text x="1912" y="1239">Reevaluate Segments</text></g>
<g id="B2_endifseg" class="n"><rect x="1980" y="1273" width="58" height="17"/><text x="2009" y="1281.5">EndIf - seg</text></g>
<g id="B2_plot" class="n g"><rect x="2006" y="1310" width="120" height="17"/><text x="2066" y="1318.5">Plot Segment Intensities</text></g>
<g id="C3_glc" class="n r"><rect x="2291" y="40" width="136" height="17"/><text x="2359" y="48.5">Get Linked Channel : label3</text></g>
<g id="C3_copy" class="n r"><rect x="2352" y="79" width="32" height="16"/><text x="2368" y="87">Copy</text></g>
<g id="C3_rename" class="n"><rect x="2328" y="104" width="76" height="17"/><text x="2366" y="112.5">Rename Image</text></g>
<g id="C3_link" class="n"><rect x="2186" y="153" width="75" height="17"/><text x="2223.5" y="161.5">Link Windows</text></g>
<g id="C3_sfod" class="n"><rect x="2333" y="164" width="82" height="17"/><text x="2374" y="172.5">Select Fluor/OD</text></g>
<g id="C3_if" class="n"><rect x="2267" y="185" width="13" height="17"/><text x="2273.5" y="193.5">If</text></g>
<g id="C3_subbg" class="n"><rect x="2122" y="211" width="109" height="17"/><text x="2176.5" y="219.5">Subtract Background</text></g>
<g id="C3_endif" class="n"><rect x="2274" y="239" width="31" height="16"/><text x="2289.5" y="247">EndIf</text></g>
<g id="C3_od2" class="n"><rect x="2344" y="229" width="77" height="16"/><text x="2382.5" y="237">Optical density</text></g>
<g id="C3_od1" class="n"><rect x="2438" y="201" width="77" height="17"/><text x="2476.5" y="209.5">Optical density</text></g>
<g id="C3_t1" class="n"><rect x="2447" y="229" width="54" height="16"/><text x="2474" y="237">Threshold</text></g>
<g id="C3_t2" class="n"><rect x="2447" y="261" width="54" height="16"/><text x="2474" y="269">Threshold</text></g>
<g id="C3_dft" class="n"><rect x="2456" y="289" width="42" height="16"/><text x="2477" y="297">2D DFT</text></g>
<g id="C3_t3" class="n"><rect x="2447" y="317" width="54" height="16"/><text x="2474" y="325">Threshold</text></g>
<g id="C3_endif2" class="n"><rect x="2361" y="354" width="31" height="16"/><text x="2376.5" y="362">EndIf</text></g>
<g id="C3_select" class="n"><rect x="2331" y="415" width="36" height="16"/><text x="2349" y="423">Select</text></g>
<g id="C3_wait" class="n"><rect x="2194" y="492" width="89" height="17"/><text x="2238.5" y="500.5">Wait for all inputs</text></g>
<g id="C3_copy2" class="n r"><rect x="2165" y="533" width="32" height="17"/><text x="2181" y="541.5">Copy</text></g>
<g id="C3_median" class="n"><rect x="2138" y="561" width="80" height="16"/><text x="2178" y="569">2D Median filter</text></g>
<g id="C3_close" class="n"><rect x="2161" y="587" width="35" height="16"/><text x="2178.5" y="595">Close</text></g>
<g id="C3_iaip" class="n"><rect x="2199" y="649" width="126" height="16"/><text x="2262" y="657">Image Aritmetics In Place</text></g>
<g id="C3_inpaint" class="n"><rect x="2323" y="518" width="66" height="16"/><text x="2356" y="526">Inpaint Mask</text></g>
<g id="C3_subbg2" class="n"><rect x="2396" y="453" width="108" height="16"/><text x="2450" y="461">Subtract Background</text></g>
<g id="C3_dftbp" class="n"><rect x="2282" y="565" width="165" height="16"/><text x="2364.5" y="573">2D DFT Butterworth BP filter tiled</text></g>
<g id="C3_thr" class="n"><rect x="2339" y="609" width="55" height="16"/><text x="2366.5" y="617">Threshold</text></g>
<g id="C3_endif3" class="n"><rect x="2469" y="669" width="31" height="16"/><text x="2484.5" y="677">EndIf</text></g>
<g id="C3_below" class="n"><rect x="2400" y="767" width="145" height="16"/><text x="2472.5" y="775">Add extra processing below</text></g>
<g id="C3_above" class="n"><rect x="2412" y="809" width="144" height="16"/><text x="2484" y="817">Add extra processing above</text></g>
<g id="B3_select" class="n"><rect x="2404" y="909" width="37" height="16"/><text x="2422.5" y="917">Select</text></g>
<g id="B3_copy" class="n r"><rect x="2197" y="945" width="31" height="17"/><text x="2212.5" y="953.5">Copy</text></g>
<g id="B3_copy2" class="n r"><rect x="2172" y="993" width="32" height="17"/><text x="2188" y="1001.5">Copy</text></g>
<g id="B3_morph" class="n"><rect x="2199" y="1031" width="118" height="16"/><text x="2258" y="1039">Morphological operator</text></g>
<g id="B3_thr" class="n"><rect x="2161" y="1065" width="54" height="17"/><text x="2188" y="1073.5">Threshold</text></g>
<g id="B3_close" class="n"><rect x="2156" y="1117" width="34" height="16"/><text x="2173" y="1125">Close</text></g>
<g id="B3_iaip" class="n"><rect x="2168" y="1157" width="126" height="16"/><text x="2231" y="1165">Image Aritmetics In Place</text></g>
<g id="B3_rename" class="n"><rect x="2211" y="1197" width="76" height="16"/><text x="2249" y="1205">Rename Image</text></g>
<g id="B3_reeval" class="n"><rect x="2214" y="1229" width="112" height="16"/><text x="2270" y="1237">Reevaluate Segments</text></g>
<g id="B3_endifseg" class="n"><rect x="2392" y="1255" width="59" height="16"/><text x="2421.5" y="1263">EndIf - seg</text></g>
<g id="B3_plot" class="n g"><rect x="2437" y="1290" width="119" height="16"/><text x="2496.5" y="1298">Plot Segment Intensities</text></g>
<g id="C4_glc" class="n r"><rect x="2660" y="42" width="137" height="16"/><text x="2728.5" y="50">Get Linked Channel : label4</text></g>
<g id="C4_copy" class="n r"><rect x="2718" y="82" width="32" height="16"/><text x="2734" y="90">Copy</text></g>
<g id="C4_rename" class="n"><rect x="2695" y="107" width="76" height="16"/><text x="2733" y="115">Rename Image</text></g>
<g id="C4_link" class="n"><rect x="2544" y="132" width="75" height="16"/><text x="2581.5" y="140">Link Windows</text></g>
<g id="C4_sfod" class="n"><rect x="2732" y="164" width="82" height="16"/><text x="2773" y="172">Select Fluor/OD</text></g>
<g id="C4_if" class="n"><rect x="2698" y="195" width="13" height="17"/><text x="2704.5" y="203.5">If</text></g>
<g id="C4_subbg" class="n"><rect x="2561" y="219" width="109" height="17"/><text x="2615.5" y="227.5">Subtract Background</text></g>
<g id="C4_endif" class="n"><rect x="2712" y="247" width="31" height="16"/><text x="2727.5" y="255">EndIf</text></g>
<g id="C4_od2" class="n"><rect x="2766" y="234" width="78" height="16"/><text x="2805" y="242">Optical density</text></g>
<g id="C4_od1" class="n"><rect x="2854" y="199" width="78" height="17"/><text x="2893" y="207.5">Optical density</text></g>
<g id="C4_t1" class="n"><rect x="2876" y="225" width="54" height="16"/><text x="2903" y="233">Threshold</text></g>
<g id="C4_t2" class="n"><rect x="2876" y="257" width="54" height="16"/><text x="2903" y="265">Threshold</text></g>
<g id="C4_dft" class="n"><rect x="2882" y="285" width="42" height="16"/><text x="2903" y="293">2D DFT</text></g>
<g id="C4_t3" class="n"><rect x="2877" y="313" width="54" height="16"/><text x="2904" y="321">Threshold</text></g>
<g id="C4_endif2" class="n"><rect x="2768" y="344" width="31" height="17"/><text x="2783.5" y="352.5">EndIf</text></g>
<g id="C4_select" class="n"><rect x="2738" y="423" width="37" height="17"/><text x="2756.5" y="431.5">Select</text></g>
<g id="C4_wait" class="n"><rect x="2620" y="494" width="89" height="16"/><text x="2664.5" y="502">Wait for all inputs</text></g>
<g id="C4_copy2" class="n r"><rect x="2592" y="534" width="31" height="16"/><text x="2607.5" y="542">Copy</text></g>
<g id="C4_median" class="n"><rect x="2564" y="562" width="80" height="16"/><text x="2604" y="570">2D Median filter</text></g>
<g id="C4_close" class="n"><rect x="2587" y="589" width="34" height="16"/><text x="2604" y="597">Close</text></g>
<g id="C4_iaip" class="n"><rect x="2625" y="650" width="126" height="16"/><text x="2688" y="658">Image Aritmetics In Place</text></g>
<g id="C4_inpaint" class="n"><rect x="2750" y="519" width="66" height="17"/><text x="2783" y="527.5">Inpaint Mask</text></g>
<g id="C4_subbg2" class="n"><rect x="2819" y="466" width="109" height="16"/><text x="2873.5" y="474">Subtract Background</text></g>
<g id="C4_dftbp" class="n"><rect x="2708" y="566" width="164" height="16"/><text x="2790" y="574">2D DFT Butterworth BP filter tiled</text></g>
<g id="C4_thr" class="n"><rect x="2765" y="610" width="55" height="16"/><text x="2792.5" y="618">Threshold</text></g>
<g id="C4_endif3" class="n"><rect x="2884" y="674" width="30" height="16"/><text x="2899" y="682">EndIf</text></g>
<g id="C4_below" class="n"><rect x="2811" y="765" width="145" height="17"/><text x="2883.5" y="773.5">Add extra processing below</text></g>
<g id="C4_above" class="n"><rect x="2828" y="815" width="144" height="17"/><text x="2900" y="823.5">Add extra processing above</text></g>
<g id="B4_select" class="n"><rect x="2807" y="899" width="37" height="16"/><text x="2825.5" y="907">Select</text></g>
<g id="B4_copy" class="n r"><rect x="2623" y="945" width="32" height="16"/><text x="2639" y="953">Copy</text></g>
<g id="B4_copy2" class="n r"><rect x="2599" y="995" width="32" height="16"/><text x="2615" y="1003">Copy</text></g>
<g id="B4_morph" class="n"><rect x="2626" y="1033" width="117" height="17"/><text x="2684.5" y="1041.5">Morphological operator</text></g>
<g id="B4_thr" class="n"><rect x="2587" y="1065" width="55" height="17"/><text x="2614.5" y="1073.5">Threshold</text></g>
<g id="B4_close" class="n"><rect x="2583" y="1117" width="33" height="16"/><text x="2599.5" y="1125">Close</text></g>
<g id="B4_iaip" class="n"><rect x="2595" y="1157" width="126" height="16"/><text x="2658" y="1165">Image Aritmetics In Place</text></g>
<g id="B4_rename" class="n"><rect x="2637" y="1199" width="76" height="17"/><text x="2675" y="1207.5">Rename Image</text></g>
<g id="B4_reeval" class="n"><rect x="2640" y="1233" width="112" height="16"/><text x="2696" y="1241">Reevaluate Segments</text></g>
<g id="B4_endifseg" class="n"><rect x="2819" y="1257" width="60" height="17"/><text x="2849" y="1265.5">EndIf - seg</text></g>
<g id="B4_plot" class="n g"><rect x="2853" y="1293" width="119" height="16"/><text x="2912.5" y="1301">Plot Segment Intensities</text></g>
</svg>
